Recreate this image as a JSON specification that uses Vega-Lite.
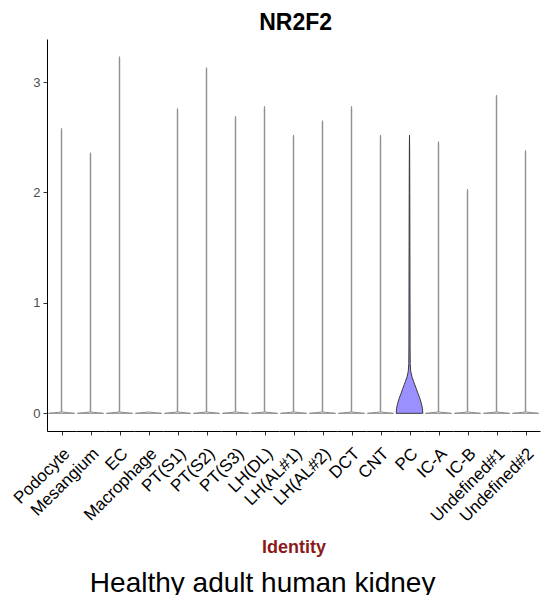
{
  "$schema": "https://vega.github.io/schema/vega-lite/v6.json",
  "padding": {"left": 10, "top": 12, "right": 0, "bottom": 0},
  "config": {"view": {"stroke": null}, "font": "Liberation Sans"},
  "title": {"text": "Healthy adult human kidney", "orient": "bottom", "fontSize": 28, "fontWeight": "normal", "font": "Liberation Sans", "color": "#000000", "anchor": "middle", "offset": 13, "dx": -13},
  "vconcat": [
    {
      "title": {"text": "NR2F2", "fontSize": 23, "fontWeight": "bold", "font": "Liberation Sans", "color": "#000000", "anchor": "middle", "offset": 4, "dx": 20},
      "data": {"values": [
        {"cell": "Podocyte", "value": 0, "width": 1.8},
        {"cell": "Podocyte", "value": 0.012, "width": 0.03},
        {"cell": "Podocyte", "value": 2.56, "width": 0.03},
        {"cell": "Podocyte", "value": 2.58, "width": 0},
        {"cell": "Mesangium", "value": 0, "width": 1.8},
        {"cell": "Mesangium", "value": 0.012, "width": 0.03},
        {"cell": "Mesangium", "value": 2.34, "width": 0.03},
        {"cell": "Mesangium", "value": 2.36, "width": 0},
        {"cell": "EC", "value": 0, "width": 1.8},
        {"cell": "EC", "value": 0.012, "width": 0.03},
        {"cell": "EC", "value": 3.21, "width": 0.03},
        {"cell": "EC", "value": 3.23, "width": 0},
        {"cell": "Macrophage", "value": 0, "width": 1.8},
        {"cell": "Macrophage", "value": 0.012, "width": 0},
        {"cell": "PT(S1)", "value": 0, "width": 1.8},
        {"cell": "PT(S1)", "value": 0.012, "width": 0.03},
        {"cell": "PT(S1)", "value": 2.74, "width": 0.03},
        {"cell": "PT(S1)", "value": 2.76, "width": 0},
        {"cell": "PT(S2)", "value": 0, "width": 1.8},
        {"cell": "PT(S2)", "value": 0.012, "width": 0.03},
        {"cell": "PT(S2)", "value": 3.11, "width": 0.03},
        {"cell": "PT(S2)", "value": 3.13, "width": 0},
        {"cell": "PT(S3)", "value": 0, "width": 1.8},
        {"cell": "PT(S3)", "value": 0.012, "width": 0.03},
        {"cell": "PT(S3)", "value": 2.67, "width": 0.03},
        {"cell": "PT(S3)", "value": 2.69, "width": 0},
        {"cell": "LH(DL)", "value": 0, "width": 1.8},
        {"cell": "LH(DL)", "value": 0.012, "width": 0.03},
        {"cell": "LH(DL)", "value": 2.76, "width": 0.03},
        {"cell": "LH(DL)", "value": 2.78, "width": 0},
        {"cell": "LH(AL#1)", "value": 0, "width": 1.8},
        {"cell": "LH(AL#1)", "value": 0.012, "width": 0.03},
        {"cell": "LH(AL#1)", "value": 2.5, "width": 0.03},
        {"cell": "LH(AL#1)", "value": 2.52, "width": 0},
        {"cell": "LH(AL#2)", "value": 0, "width": 1.8},
        {"cell": "LH(AL#2)", "value": 0.012, "width": 0.03},
        {"cell": "LH(AL#2)", "value": 2.63, "width": 0.03},
        {"cell": "LH(AL#2)", "value": 2.65, "width": 0},
        {"cell": "DCT", "value": 0, "width": 1.8},
        {"cell": "DCT", "value": 0.012, "width": 0.03},
        {"cell": "DCT", "value": 2.76, "width": 0.03},
        {"cell": "DCT", "value": 2.78, "width": 0},
        {"cell": "CNT", "value": 0, "width": 1.8},
        {"cell": "CNT", "value": 0.012, "width": 0.03},
        {"cell": "CNT", "value": 2.5, "width": 0.03},
        {"cell": "CNT", "value": 2.52, "width": 0},
        {"cell": "PC", "value": 0, "width": 1.84},
        {"cell": "PC", "value": 0.045, "width": 1.78},
        {"cell": "PC", "value": 0.09, "width": 1.64},
        {"cell": "PC", "value": 0.135, "width": 1.43},
        {"cell": "PC", "value": 0.18, "width": 1.17},
        {"cell": "PC", "value": 0.226, "width": 0.92},
        {"cell": "PC", "value": 0.26, "width": 0.72},
        {"cell": "PC", "value": 0.29, "width": 0.56},
        {"cell": "PC", "value": 0.33, "width": 0.34},
        {"cell": "PC", "value": 0.38, "width": 0.17},
        {"cell": "PC", "value": 0.45, "width": 0.1},
        {"cell": "PC", "value": 0.6, "width": 0.08},
        {"cell": "PC", "value": 1.0, "width": 0.07},
        {"cell": "PC", "value": 1.5, "width": 0.055},
        {"cell": "PC", "value": 2.0, "width": 0.04},
        {"cell": "PC", "value": 2.4, "width": 0.02},
        {"cell": "PC", "value": 2.52, "width": 0},
        {"cell": "IC-A", "value": 0, "width": 1.8},
        {"cell": "IC-A", "value": 0.012, "width": 0.03},
        {"cell": "IC-A", "value": 2.44, "width": 0.03},
        {"cell": "IC-A", "value": 2.46, "width": 0},
        {"cell": "IC-B", "value": 0, "width": 1.8},
        {"cell": "IC-B", "value": 0.012, "width": 0.03},
        {"cell": "IC-B", "value": 2.01, "width": 0.03},
        {"cell": "IC-B", "value": 2.03, "width": 0},
        {"cell": "Undefined#1", "value": 0, "width": 1.8},
        {"cell": "Undefined#1", "value": 0.012, "width": 0.03},
        {"cell": "Undefined#1", "value": 2.86, "width": 0.03},
        {"cell": "Undefined#1", "value": 2.88, "width": 0},
        {"cell": "Undefined#2", "value": 0, "width": 1.8},
        {"cell": "Undefined#2", "value": 0.012, "width": 0.03},
        {"cell": "Undefined#2", "value": 2.36, "width": 0.03},
        {"cell": "Undefined#2", "value": 2.38, "width": 0}
      ]},
      "spacing": 0,
      "bounds": "flush",
      "facet": {
        "column": {
          "field": "cell", "type": "nominal", "title": "Identity",
          "sort": ["Podocyte", "Mesangium", "EC", "Macrophage", "PT(S1)", "PT(S2)", "PT(S3)", "LH(DL)", "LH(AL#1)", "LH(AL#2)", "DCT", "CNT", "PC", "IC-A", "IC-B", "Undefined#1", "Undefined#2"],
          "header": {
            "labelOrient": "bottom", "labelAngle": -45, "labelAlign": "right", "labelBaseline": "top",
            "labelFontSize": 17, "labelColor": "#000000", "labelFont": "Liberation Sans", "labelPadding": 10,
            "titleOrient": "bottom", "titleFontSize": 18, "titleFontWeight": "bold", "titleColor": "#8b1a1a", "titleFont": "Liberation Sans", "titlePadding": 4
          }
        }
      },
      "spec": {
        "width": 29,
        "height": 392,
        "mark": {"type": "area", "orient": "horizontal", "strokeWidth": 1},
        "encoding": {
          "y": {
            "field": "value", "type": "quantitative",
            "scale": {"domain": [-0.16, 3.39], "nice": false, "zero": false},
            "axis": {"title": null, "values": [0, 1, 2, 3], "grid": false, "domainColor": "#000000", "tickColor": "#333333", "tickSize": 4, "labelColor": "#4d4d4d", "labelFontSize": 13, "labelPadding": 3}
          },
          "x": {
            "field": "width", "type": "quantitative", "stack": "center", "impute": null,
            "scale": {"domain": [-0.08, 1.92], "nice": false, "zero": false},
            "axis": {"title": null, "labels": false, "values": [0.92], "grid": false, "ticks": true, "domainColor": "#000000", "tickColor": "#333333", "tickSize": 4}
          },
          "fill": {"condition": {"test": "datum.cell === 'PC'", "value": "#9a90ff"}, "value": "#ffffff"},
          "stroke": {"condition": {"test": "datum.cell === 'PC'", "value": "#3a3a3a"}, "value": "#8c8c8c"}
        }
      }
    }
  ]
}
